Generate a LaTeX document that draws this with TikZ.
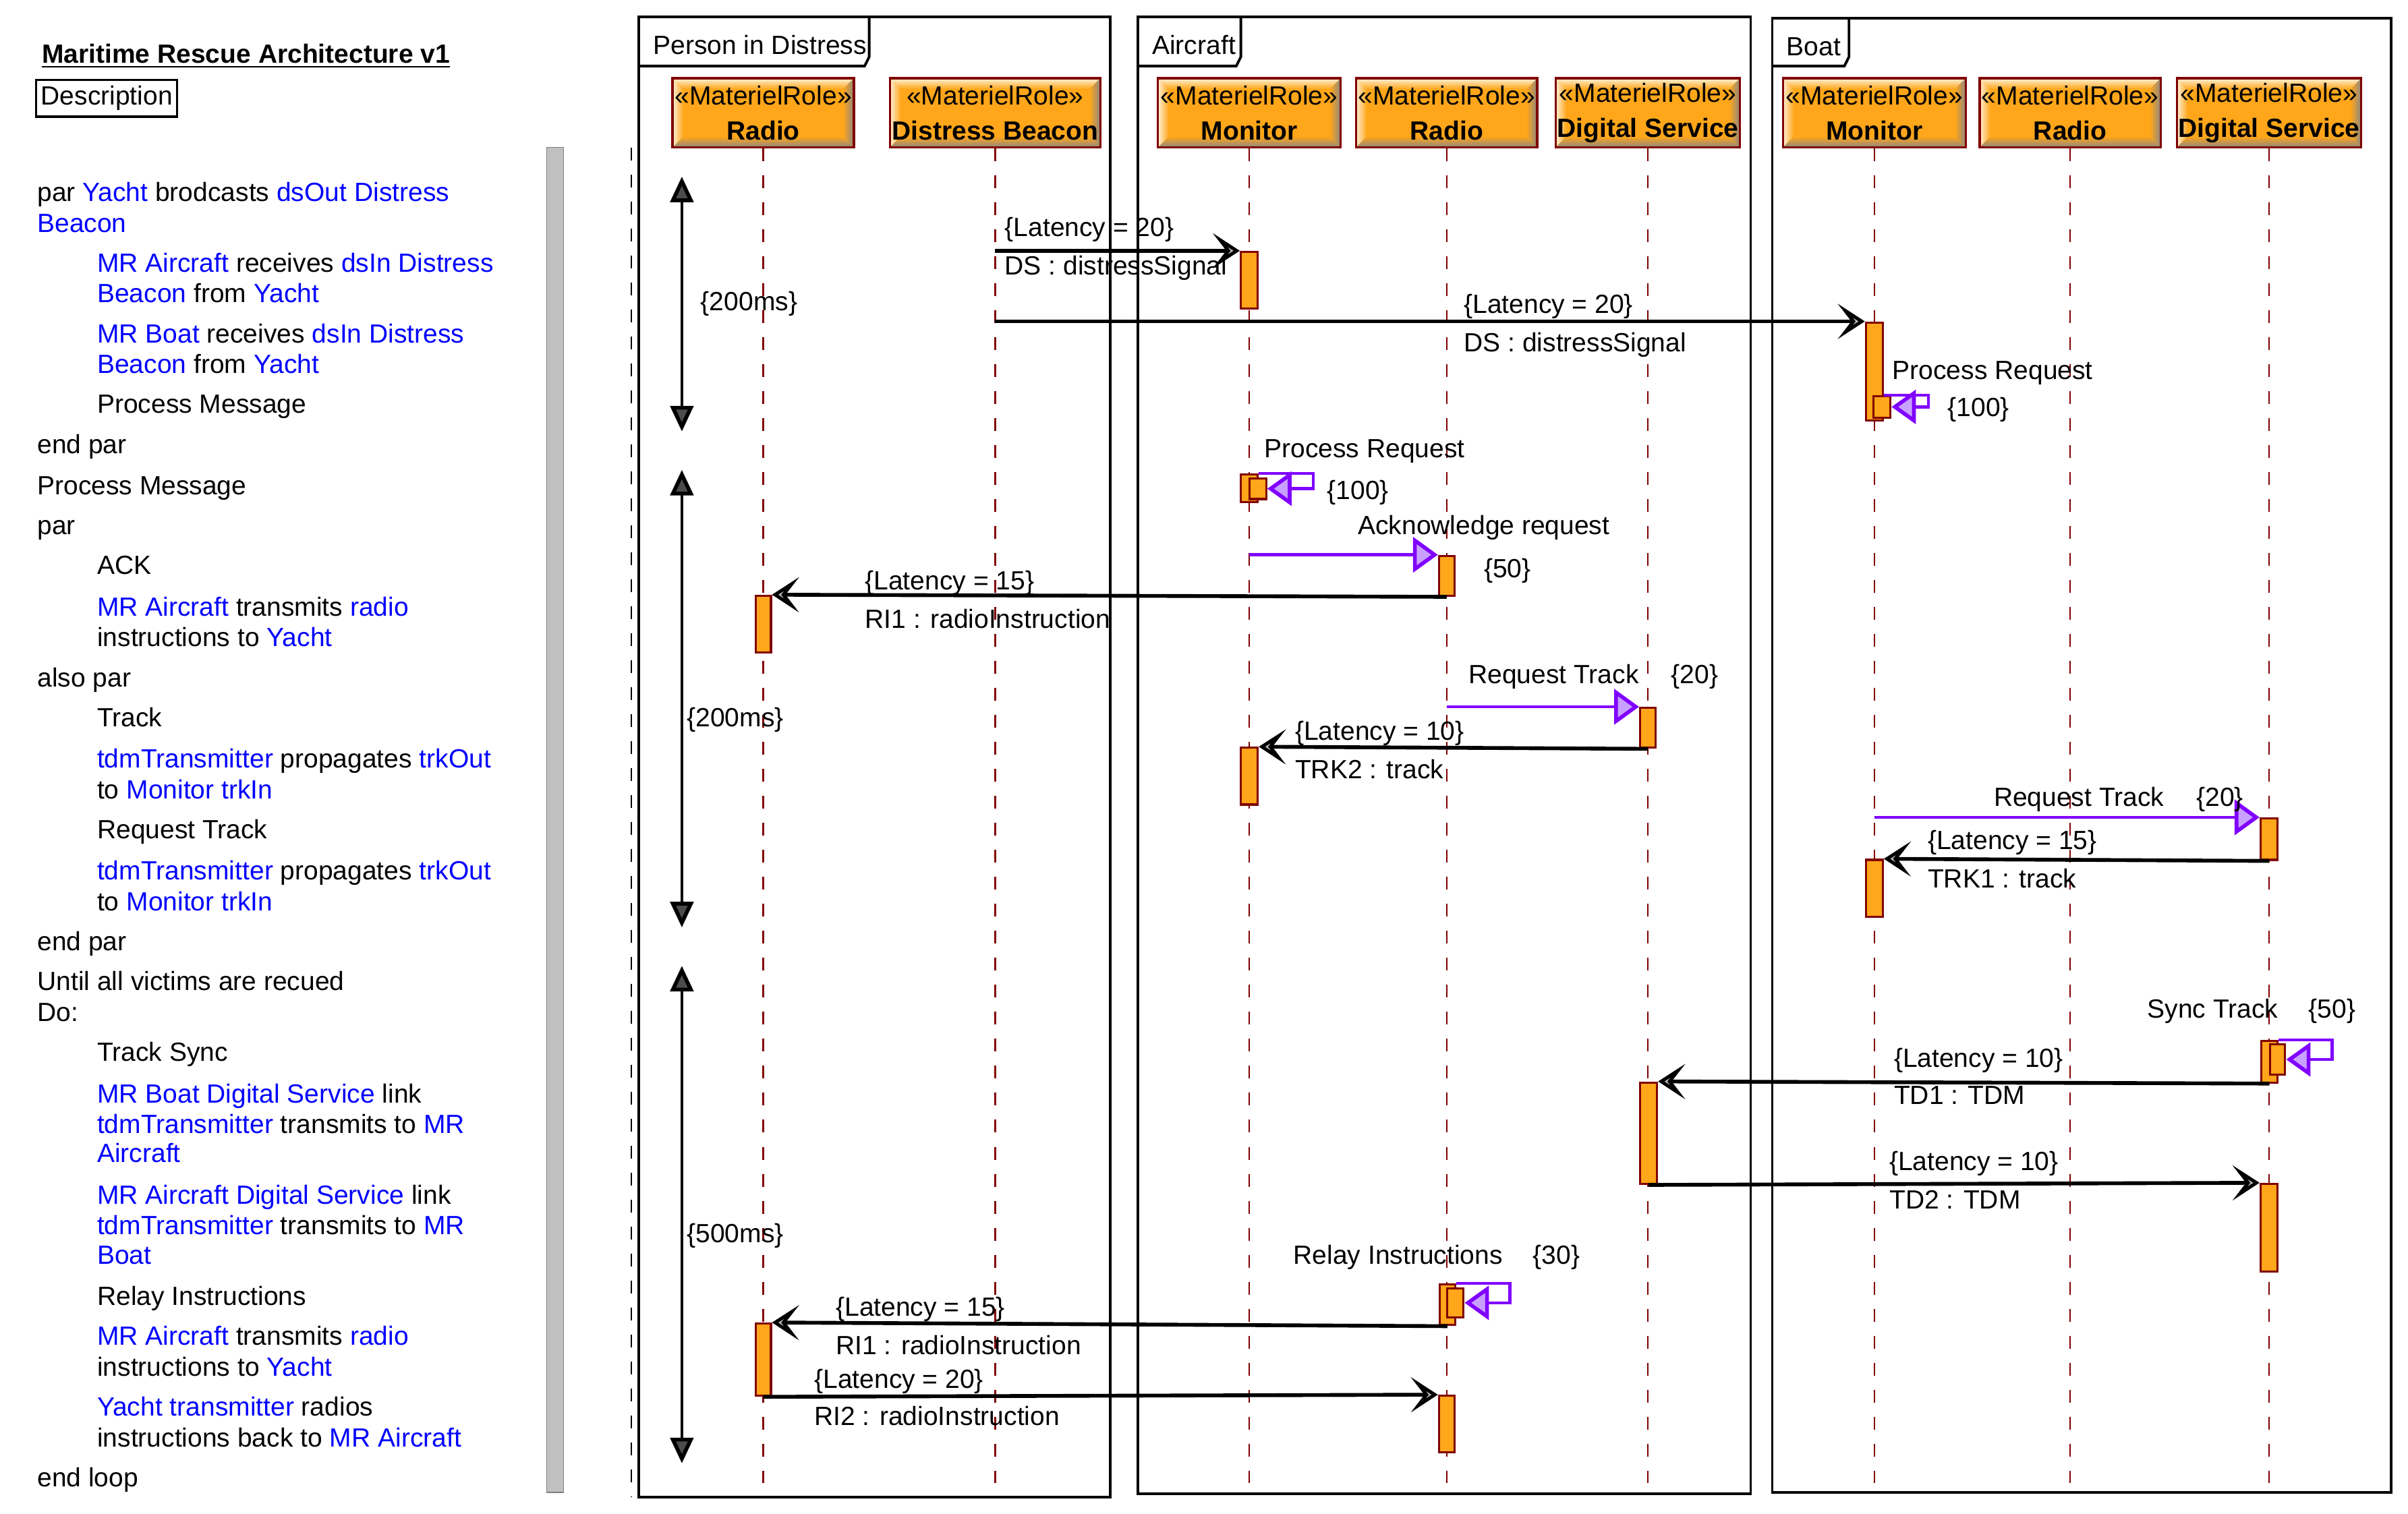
\documentclass[tikz,border=0pt]{standalone}
\usepackage{fontspec}
\setmainfont{Liberation Sans}
\usetikzlibrary{arrows.meta,fit,calc}
\definecolor{lred}{RGB}{128,0,0}
\definecolor{mor}{RGB}{255,166,26}
\definecolor{lor}{RGB}{255,240,215}
\definecolor{gbr}{RGB}{140,135,130}
\definecolor{vio}{RGB}{128,0,255}
\definecolor{vfill}{RGB}{200,160,255}
\definecolor{sgray}{RGB}{192,192,192}
\definecolor{mblue}{RGB}{0,0,255}
\newcommand{\bluew}[1]{\textcolor{mblue}{#1}}
\tikzset{
  txt/.style={anchor=west, inner sep=0pt, text height=0.28cm, text depth=0pt},
  head/.style={draw=lred, line width=1pt, fill=mor, minimum height=1.024cm, inner sep=0pt, align=center,
    path picture={
      \coordinate (NW) at (path picture bounding box.north west);
      \coordinate (NE) at (path picture bounding box.north east);
      \coordinate (SW) at (path picture bounding box.south west);
      \coordinate (SE) at (path picture bounding box.south east);
      \shade[top color=lor, bottom color=mor] (NW) -- (NE) -- ([shift={(-0.16cm,-0.16cm)}]NE) -- ([shift={(0.16cm,-0.16cm)}]NW) -- cycle;
      \shade[left color=lor, right color=mor] (NW) -- ([shift={(0.16cm,-0.16cm)}]NW) -- ([shift={(0.16cm,0.16cm)}]SW) -- (SW) -- cycle;
      \shade[top color=mor, bottom color=gbr] (SW) -- (SE) -- ([shift={(-0.16cm,0.16cm)}]SE) -- ([shift={(0.16cm,0.16cm)}]SW) -- cycle;
      \shade[left color=mor, right color=gbr] (NE) -- (SE) -- ([shift={(-0.16cm,0.16cm)}]SE) -- ([shift={(-0.16cm,-0.16cm)}]NE) -- cycle;
    }},
  bar/.style={draw=lred, fill=mor, line width=0.9pt, inner sep=0pt},
  life/.style={draw=lred, line width=0.7pt, dash pattern=on 0.19cm off 0.21cm},
  frm/.style={draw=black, line width=1.1pt},
  msgb/.style={draw=black, line width=1.6pt, -{Stealth[length=0.40cm,width=0.52cm,inset=0.2cm,fill=gray!55,line width=2.2pt]}},
  msgp/.style={draw=vio, line width=1.3pt, -{Triangle[length=0.37cm,width=0.52cm,fill=vfill,line width=1.6pt]}},
  selfp/.style={draw=vio, line width=1.3pt, -{Triangle[length=0.36cm,width=0.5cm,fill=vfill,line width=1.6pt]}},
  tim/.style={draw=black, line width=1.3pt, {Triangle[length=0.38cm,width=0.34cm,fill=gray!60!black,line width=1.6pt]}-{Triangle[length=0.38cm,width=0.34cm,fill=gray!60!black,line width=1.6pt]}},
}
\begin{document}
\begin{tikzpicture}[x=0.022768cm, y=-0.022759cm, font=\fontsize{11.1pt}{13.3pt}\selectfont]
\useasboundingbox (0,0) rectangle (1568,986);
\fill[white] (0,0) rectangle (1568,986);

% ---------- left description ----------
\node[txt] (title) at (27,35) {\textbf{\underline{Maritime Rescue Architecture v1}}};
\node[draw=black, line width=0.9pt, inner xsep=2pt, inner ysep=0pt, minimum height=0.546cm] (desc) at (69.5,64) {Description};
\draw[draw=gray, fill=sgray, line width=0.5pt] (356,96) rectangle (367,972);
\draw[draw=black, line width=0.7pt, dash pattern=on 0.19cm off 0.21cm] (411,96) -- (411,975);

\node[txt] (d1) at (24,125) {par \bluew{Yacht} brodcasts \bluew{dsOut Distress}};
\node[txt] (d2) at (24,145) {\bluew{Beacon}};
\node[txt] (d3) at (63,171) {\bluew{MR Aircraft} receives \bluew{dsIn Distress}};
\node[txt] (d4) at (63,191) {\bluew{Beacon} from \bluew{Yacht}};
\node[txt] (d5) at (63,217) {\bluew{MR Boat} receives \bluew{dsIn Distress}};
\node[txt] (d6) at (63,237) {\bluew{Beacon} from \bluew{Yacht}};
\node[txt] (d7) at (63,263) {Process Message};
\node[txt] (d8) at (24,289) {end par};
\node[txt] (d9) at (24,316) {Process Message};
\node[txt] (d10) at (24,342) {par};
\node[txt] (d11) at (63,368) {ACK};
\node[txt] (d12) at (63,395) {\bluew{MR Aircraft} transmits \bluew{radio}};
\node[txt] (d13) at (63,415) {instructions to \bluew{Yacht}};
\node[txt] (d14) at (24,441) {also par};
\node[txt] (d15) at (63,467) {Track};
\node[txt] (d16) at (63,494) {\bluew{tdmTransmitter} propagates \bluew{trkOut}};
\node[txt] (d17) at (63,514) {to \bluew{Monitor trkIn}};
\node[txt] (d18) at (63,540) {Request Track};
\node[txt] (d19) at (63,567) {\bluew{tdmTransmitter} propagates \bluew{trkOut}};
\node[txt] (d20) at (63,587) {to \bluew{Monitor trkIn}};
\node[txt] (d21) at (24,613) {end par};
\node[txt] (d22) at (24,639) {Until all victims are recued};
\node[txt] (d23) at (24,659) {Do:};
\node[txt] (d24) at (63,685) {Track Sync};
\node[txt] (d25) at (63,712) {\bluew{MR Boat Digital Service} link};
\node[txt] (d26) at (63,732) {\bluew{tdmTransmitter} transmits to \bluew{MR}};
\node[txt] (d27) at (63,751) {\bluew{Aircraft}};
\node[txt] (d28) at (63,778) {\bluew{MR Aircraft Digital Service} link};
\node[txt] (d29) at (63,798) {\bluew{tdmTransmitter} transmits to \bluew{MR}};
\node[txt] (d30) at (63,817) {\bluew{Boat}};
\node[txt] (d31) at (63,844) {Relay Instructions};
\node[txt] (d32) at (63,870) {\bluew{MR Aircraft} transmits \bluew{radio}};
\node[txt] (d33) at (63,890) {instructions to \bluew{Yacht}};
\node[txt] (d34) at (63,916) {\bluew{Yacht transmitter} radios};
\node[txt] (d35) at (63,936) {instructions back to \bluew{MR Aircraft}};
\node[txt] (d36) at (24,962) {end loop};

% ---------- frames ----------
\draw[frm] (416,11) rectangle (723,975);
\draw[frm] (416,43) -- (563,43) -- (566,37) -- (566,11);
\node[txt] (fP) at (425,29) {Person in Distress};
\draw[frm] (741,11) rectangle (1140,973);
\draw[frm] (741,43) -- (805,43) -- (808,37) -- (808,11);
\node[txt] (fA) at (750,29) {Aircraft};
\draw[frm] (1154,12) rectangle (1557,972);
\draw[frm] (1154,43) -- (1201,43) -- (1204,37) -- (1204,12);
\node[txt] (fB) at (1163,30) {Boat};

% ---------- heads ----------
\coordinate (bot) at (0,966);
\node[head, minimum width=2.687cm] (hPR) at (497,73.5) {«MaterielRole»\\[1.5pt]\textbf{Radio}};
\node[head, minimum width=3.119cm] (hDB) at (648,73.5) {«MaterielRole»\\[1.5pt]\textbf{Distress Beacon}};
\node[head, minimum width=2.709cm] (hAM) at (813.5,73.5) {«MaterielRole»\\[1.5pt]\textbf{Monitor}};
\node[head, minimum width=2.687cm] (hAR) at (942,73.5) {«MaterielRole»\\[1.5pt]\textbf{Radio}};
\node[head, minimum width=2.732cm] (hAD) at (1073,73.5) {«MaterielRole»\\[1.5pt]\textbf{Digital Service}};
\node[head, minimum width=2.709cm] (hBM) at (1220.5,73.5) {«MaterielRole»\\[1.5pt]\textbf{Monitor}};
\node[head, minimum width=2.687cm] (hBR) at (1348,73.5) {«MaterielRole»\\[1.5pt]\textbf{Radio}};
\node[head, minimum width=2.732cm] (hBD) at (1477.5,73.5) {«MaterielRole»\\[1.5pt]\textbf{Digital Service}};
\foreach \h in {hPR,hDB,hAM,hAR,hAD,hBM,hBR,hBD}
  \draw[life] (\h.south) -- (\h.south |- bot);

% ---------- timing constraints ----------
\coordinate (t1a) at (444,115); \coordinate (t1b) at (444,281);
\coordinate (t2a) at (444,306); \coordinate (t2b) at (444,604);
\coordinate (t3a) at (444,629); \coordinate (t3b) at (444,953);
\draw[tim] (t1a) -- (t1b);
\draw[tim] (t2a) -- (t2b);
\draw[tim] (t3a) -- (t3b);
\node[txt] (tl1) at (456,196) {\{200ms\}};
\node[txt] (tl2) at (447,467) {\{200ms\}};
\node[txt] (tl3) at (447,803) {\{500ms\}};

% ---------- activation bars ----------
\node[bar, fit={(808,164) (819,201)}] (aAM1) {};
\node[bar, fit={(1215,210) (1226,274)}] (aBM1) {};
\node[bar, fit={(1220,258) (1231,272)}] (aBM2) {};
\node[bar, fit={(808,309) (819,327)}] (aAM2) {};
\node[bar, fit={(813.5,311.5) (824.5,325)}] (aAM2n) {};
\node[bar, fit={(937,362) (947,388)}] (aAR1) {};
\node[bar, fit={(492,388) (502,425)}] (aPR1) {};
\node[bar, fit={(1068,461) (1078,487)}] (aAD1) {};
\node[bar, fit={(808,487) (819,524)}] (aAM3) {};
\node[bar, fit={(1472,533) (1483,560)}] (aBD1) {};
\node[bar, fit={(1215,560) (1226,597)}] (aBM3) {};
\node[bar, fit={(1472.5,678) (1483,705)}] (aBD2) {};
\node[bar, fit={(1478,680) (1488,700)}] (aBD2n) {};
\node[bar, fit={(1068,705) (1079,771)}] (aAD2) {};
\node[bar, fit={(1472,771) (1483,828)}] (aBD3) {};
\node[bar, fit={(937.5,836.5) (947.5,863)}] (aAR2) {};
\node[bar, fit={(942.5,839) (953,858)}] (aAR2n) {};
\node[bar, fit={(492,862) (502,909)}] (aPR2) {};
\node[bar, fit={(937,909) (947,946)}] (aAR3) {};

% ---------- messages ----------
\draw[msgb] (hDB |- aAM1.north) -- (aAM1.north west);
\node[txt] (m1a) at (654,148) {\{Latency = 20\}};
\node[txt] (m1b) at (654,173) {DS : distressSignal};

\draw[msgb] (hDB |- aBM1.north) -- (aBM1.north west);
\node[txt] (m2a) at (953,198) {\{Latency = 20\}};
\node[txt] (m2b) at (953,223) {DS : distressSignal};

\draw[selfp] (aBM1.east |- aBM2.north) -| ($(aBM2.east)+(24,0)$) -- (aBM2.east);
\node[txt] (m3a) at (1232,241) {Process Request};
\node[txt] (m3b) at (1268,265) {\{100\}};

\draw[selfp] (aAM2.north east) -| ($(aAM2n.east)+(30,0)$) -- (aAM2n.east);
\node[txt] (m4a) at (823,292) {Process Request};
\node[txt] (m4b) at (864,319) {\{100\}};

\draw[msgp] (hAM |- aAR1.north) -- (aAR1.north west);
\node[txt] (m5a) at (884,342) {Acknowledge request};
\node[txt] (m5b) at (966,370) {\{50\}};

\draw[msgb] (aAR1.south) -- (aPR1.north east);
\node[txt] (m6a) at (563,378) {\{Latency = 15\}};
\node[txt] (m6b) at (563,403) {RI1 : radioInstruction};

\draw[msgp] (hAR |- aAD1.north) -- (aAD1.north west);
\node[txt] (m7a) at (956,439) {Request Track};
\node[txt] (m7b) at (1088,439) {\{20\}};

\draw[msgb] (aAD1.south) -- (aAM3.north east);
\node[txt] (m8a) at (843,476) {\{Latency = 10\}};
\node[txt] (m8b) at (843,501) {TRK2 : track};

\draw[msgp] (hBM |- aBD1.north) -- (aBD1.north west);
\node[txt] (m9a) at (1298,519) {Request Track};
\node[txt] (m9b) at (1430,519) {\{20\}};

\draw[msgb] (aBD1.south) -- (aBM3.north east);
\node[txt] (m10a) at (1255,547) {\{Latency = 15\}};
\node[txt] (m10b) at (1255,572) {TRK1 : track};

\draw[selfp] (aBD2.north east) -| ($(aBD2n.east)+(30,0)$) -- (aBD2n.east);
\node[txt] (m11a) at (1398,657) {Sync Track};
\node[txt] (m11b) at (1503,657) {\{50\}};

\draw[msgb] (aBD2.south) -- (aAD2.north east);
\node[txt] (m12a) at (1233,689) {\{Latency = 10\}};
\node[txt] (m12b) at (1233,713) {TD1 : TDM};

\draw[msgb] (aAD2.south) -- (aBD3.north west);
\node[txt] (m13a) at (1230,756) {\{Latency = 10\}};
\node[txt] (m13b) at (1230,781) {TD2 : TDM};

\draw[selfp] (aAR2.north east) -| ($(aAR2n.east)+(29.5,0)$) -- (aAR2n.east);
\node[txt] (m14a) at (842,817) {Relay Instructions};
\node[txt] (m14b) at (998,817) {\{30\}};

\draw[msgb] (aAR2.south) -- (aPR2.north east);
\node[txt] (m15a) at (544,851) {\{Latency = 15\}};
\node[txt] (m15b) at (544,876) {RI1 : radioInstruction};

\draw[msgb] (aPR2.south) -- (aAR3.north west);
\node[txt] (m16a) at (530,898) {\{Latency = 20\}};
\node[txt] (m16b) at (530,922) {RI2 : radioInstruction};
\end{tikzpicture}
\end{document}
